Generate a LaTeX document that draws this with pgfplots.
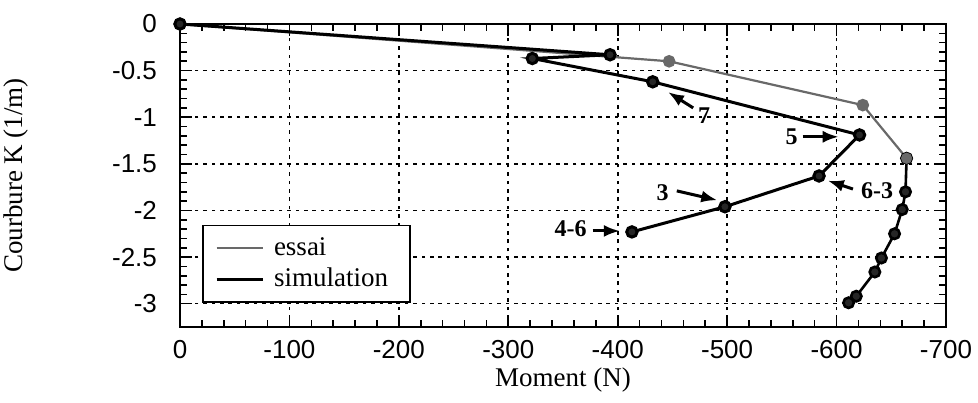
\documentclass[border=0pt]{standalone}
\usepackage{fontspec}
\setmainfont{Liberation Serif}
\newfontfamily\ticksans{Liberation Sans}
\usepackage{pgfplots}
\pgfplotsset{compat=1.18}
\usetikzlibrary{arrows.meta,calc}
\definecolor{essaigray}{RGB}{105,105,105}
\begin{document}
\begin{tikzpicture}
\begin{axis}[
  scale only axis,
  width=383pt, height=151.5pt,
  x dir=reverse,
  xmin=-700, xmax=0, ymin=-3.25, ymax=0,
  xtick={-700,-600,-500,-400,-300,-200,-100,0},
  ytick={-3,-2.5,-2,-1.5,-1,-0.5,0},
  minor x tick num=4, minor y tick num=4,
  tick align=inside,
  major tick length=6pt, minor tick length=3.5pt,
  tick style={black, line width=0.8pt},
  axis line style={line width=0.9pt},
  grid=major,
  major grid style={black, line width=0.8pt, dash pattern=on 1.8pt off 2.4pt},
  /pgf/number format/assume math mode=true,
  ticklabel style={font=\ticksans\fontsize{13}{15}\selectfont},
  yticklabel style={xshift=-8pt},
  xticklabel style={yshift=-3pt},
  xlabel={Moment (N)},
  ylabel={Courbure K (1/m)},
  label style={font=\fontsize{13.5}{15}\selectfont},
  xlabel style={at={(axis description cs:0.5,0)}, anchor=center, yshift=-26.5pt},
  ylabel style={at={(axis description cs:-0.214,0.5)}, anchor=center},
  legend style={at={(rel axis cs:0.029,0.08)}, anchor=south west,
    draw=black, line width=0.8pt, font=\fontsize{13.5}{15}\selectfont,
    row sep=1pt, inner xsep=6pt, inner ysep=4pt,
    nodes={inner xsep=5pt}},
  legend cell align=left,
  legend image code/.code={\draw[#1, mark=none] (3pt,0pt) -- (26pt,0pt);},
]
\addplot[essaigray, line width=1.1pt, mark=*, mark size=2.6pt,
  mark options={fill=essaigray, draw=essaigray}]
  coordinates {(0,0) (-447,-0.40) (-624,-0.87) (-664,-1.44)};
\addlegendentry{essai}
\addplot[black, line width=1.5pt, mark=*, mark size=2.6pt,
  mark options={fill=black!85, draw=black}]
  coordinates {(0,0) (-393,-0.33) (-322,-0.37) (-432,-0.62) (-621,-1.19)
    (-584,-1.63) (-498,-1.96) (-413,-2.23)};
\addlegendentry{simulation}
\addplot[black, line width=1.3pt, mark=*, mark size=2.6pt,
  mark options={fill=black!85, draw=black}, forget plot]
  coordinates {(-664,-1.44) (-663,-1.80) (-660,-1.99) (-653,-2.25)
    (-641,-2.51) (-635,-2.66) (-618,-2.92) (-611,-2.99)};
\addplot[essaigray, mark=*, mark size=2.6pt,
  mark options={fill=essaigray, draw=essaigray}, only marks, forget plot]
  coordinates {(-664,-1.44)};
% annotations
\begin{scope}[font=\bfseries\fontsize{12}{13}\selectfont]
\node at (axis cs:-479,-0.98) {7};
\draw[-{Latex[length=8pt,width=6pt]}, line width=1.5pt] (axis cs:-469,-0.90) -- (axis cs:-446,-0.73);
\node at (axis cs:-559,-1.21) {5};
\draw[-{Latex[length=8pt,width=6pt]}, line width=1.5pt] (axis cs:-569,-1.21) -- (axis cs:-602,-1.21);
\node at (axis cs:-637,-1.79) {6-3};
\draw[-{Latex[length=8pt,width=6pt]}, line width=1.5pt] (axis cs:-615,-1.77) -- (axis cs:-592,-1.68);
\node at (axis cs:-441,-1.81) {3};
\draw[-{Latex[length=8pt,width=6pt]}, line width=1.5pt] (axis cs:-454,-1.79) -- (axis cs:-491,-1.89);
\node at (axis cs:-357,-2.20) {4-6};
\draw[-{Latex[length=8pt,width=6pt]}, line width=1.5pt] (axis cs:-377,-2.22) -- (axis cs:-402,-2.22);
\end{scope}
\end{axis}
\pgfresetboundingbox
\path[use as bounding box] ($(current axis.south west)+(-90pt,-37.5pt)$) rectangle ($(current axis.north east)+(16pt,12pt)$);
\end{tikzpicture}
\end{document}
